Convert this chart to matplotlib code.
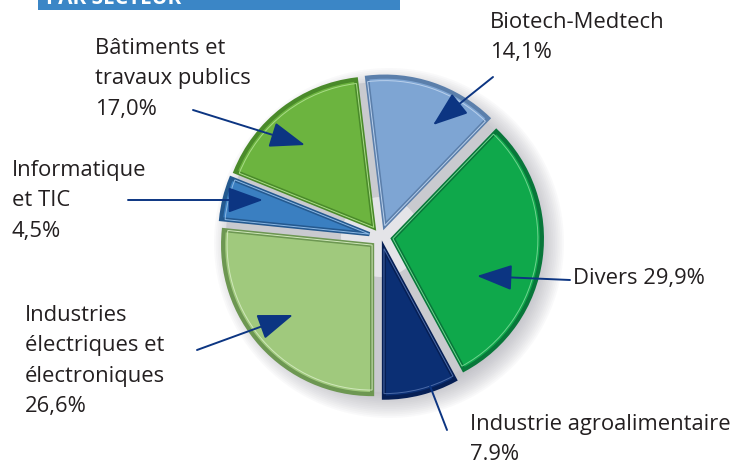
import matplotlib.pyplot as plt
from matplotlib.patches import Circle, Rectangle

W, H = 732, 465

# data, order: counterclockwise starting at 6 o'clock
sectors = ["Industrie agroalimentaire", "Divers", "Biotech-Medtech",
           "Bâtiments et travaux publics", "Informatique et TIC",
           "Industries électriques et électroniques"]
shares = [7.9, 29.9, 14.1, 17.0, 4.5, 26.6]
labels = ["Industrie agroalimentaire\n7.9%",
          "Divers 29,9%",
          "Biotech-Medtech\n14,1%",
          "Bâtiments et\ntravaux publics\n17,0%",
          "Informatique\net TIC\n4,5%",
          "Industries\nélectriques et\nélectroniques\n26,6%"]
colors = ["#0b2f74", "#0fa84b", "#7ea5d3", "#6cb43f", "#3a7fc1", "#a0c97d"]
edges = ["#061f55", "#08773a", "#5b7fab", "#4a8a2a", "#24598f", "#6d9752"]
lights = ["#4a6aa8", "#6fd48f", "#b9d0ec", "#a8dc86", "#8cb8e4", "#d0e8bb"]

# label placement (pixel coords, y down)
label_pos = [(470, 414), (573, 268), (490, 12), (95, 38), (12, 160), (25, 305)]
arrow_from = [(447, 430), (570, 280), (493, 77), (193, 110), (128, 200), (197, 350)]
arrow_to = [(430, 386), (477, 276), (433, 125), (305, 145), (263, 200), (293, 315)]

cx, cy, R = 381, H - 237, 149

fig = plt.figure(figsize=(W / 100, H / 100), dpi=100)
ax = fig.add_axes([0, 0, 1, 1])

# soft shadow behind the pie
for k in range(14):
    ax.add_patch(Circle((cx + 8, cy - 6), R + 26 - k * 1.8, color="#9a9aa2",
                        alpha=0.05, lw=0, zorder=0))
ax.add_patch(Circle((cx, cy), R + 6, color="#c9cacf", lw=0, zorder=0.5))
ax.add_patch(Circle((cx, cy), 40, color="#e4e4e8", lw=0, zorder=0.6))

wedges, _ = ax.pie(shares, colors=colors, startangle=-90, counterclock=True,
                   explode=[12] * len(shares), radius=R, center=(cx, cy),
                   wedgeprops=dict(linewidth=3))
for w, ec in zip(wedges, edges):
    w.set_edgecolor(ec)
    w.set_zorder(2)

inner, _ = ax.pie(shares, colors=colors, startangle=-90, counterclock=True,
                  explode=[12] * len(shares), radius=R - 4, center=(cx, cy),
                  wedgeprops=dict(fill=False, linewidth=0.7))
for w, lc in zip(inner, lights):
    w.set_edgecolor(lc)
    w.set_zorder(3)

ax.set_xlim(0, W)
ax.set_ylim(0, H)
ax.set_aspect("auto")
ax.axis("off")

font = ["Open Sans", "DejaVu Sans"]
for lab, (x, y) in zip(labels, label_pos):
    ax.text(x, H - y, lab, ha="left", va="top", fontsize=15.8, color="#231f20",
            family=font, linespacing=1.58)

for i, ((x0, y0), (x1, y1)) in enumerate(zip(arrow_from, arrow_to)):
    style = "-" if i == 0 else "-|>,head_length=1.1,head_width=0.4"
    ax.annotate("", xy=(x1, H - y1), xytext=(x0, H - y0),
                arrowprops=dict(arrowstyle=style, color="#0c3582", lw=1.4,
                                mutation_scale=20, shrinkA=0, shrinkB=0),
                zorder=5)

# cut-off section header
ax.add_patch(Rectangle((38, H - 10), 362, 10, color="#3b86c6", lw=0, zorder=4))
ax.text(46, H - 4, "PAR SECTEUR", color="white", fontsize=15, fontweight="bold",
        family=font, va="baseline", zorder=5)

fig.savefig("out.png", dpi=100)
